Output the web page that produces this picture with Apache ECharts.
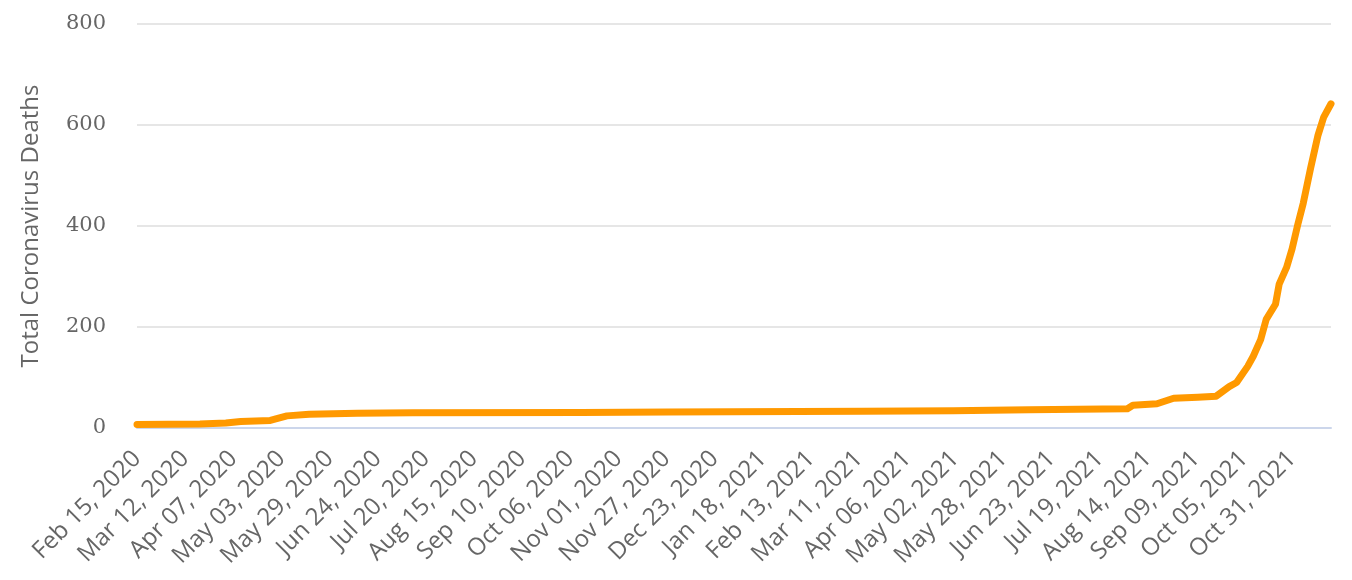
<!DOCTYPE html>
<html>
<head>
<meta charset="utf-8">
<script src="https://cdn.jsdelivr.net/npm/echarts@6/dist/echarts.min.js"></script>
<style>html,body{margin:0;padding:0;background:#fff}#c{width:1352px;height:580px}</style>
</head>
<body>
<div id="c"></div>
<script>
// Category range (daily)
const startDate = '2020-02-15';
const endDate = '2021-11-21';
// Readings of the cumulative line (date, total deaths)
const pointDates = [
  '2020-02-15','2020-03-20','2020-04-03','2020-04-11','2020-04-27','2020-05-06','2020-05-18','2020-06-13',
  '2020-07-13','2020-10-12','2020-11-28','2021-03-13','2021-05-01','2021-05-21','2021-06-11','2021-08-03',
  '2021-08-06','2021-08-19','2021-08-28','2021-09-10','2021-09-20','2021-09-27','2021-10-01','2021-10-07',
  '2021-10-10','2021-10-14','2021-10-17','2021-10-22','2021-10-24','2021-10-28','2021-10-31','2021-11-03',
  '2021-11-06','2021-11-10','2021-11-14','2021-11-17','2021-11-21'
];
const pointValues = [
  7, 8, 10, 13, 15, 24, 27, 29,
  30, 30.5, 31.5, 33, 34, 35, 36, 38,
  45, 48, 59, 61, 63, 82, 90, 122,
  142, 175, 215, 245, 285, 318, 355, 402,
  445, 515, 580, 615, 642
];
const yTicks = [0, 200, 400, 600, 800];
const yTitle = 'Total Coronavirus Deaths';
const monthNames = ['Jan','Feb','Mar','Apr','May','Jun','Jul','Aug','Sep','Oct','Nov','Dec'];

function iso(d){ return d.toISOString().slice(0,10); }
const categories = [];
for (let d = new Date(startDate + 'T00:00:00Z'); iso(d) <= endDate; d = new Date(d.getTime() + 86400000)) {
  categories.push(iso(d));
}
function fmt(s){
  const [y,m,dd] = s.split('-');
  return monthNames[+m - 1] + ' ' + dd + ', ' + y;
}
const seriesData = pointDates.map((d, i) => [d, pointValues[i]]);

const chart = echarts.init(document.getElementById('c'), null, {renderer: 'canvas'});
chart.setOption({
  animation: false,
  backgroundColor: '#ffffff',
  grid: {left: 137, right: 21, top: 24, bottom: 152, containLabel: false},
  xAxis: {
    type: 'category',
    data: categories,
    boundaryGap: false,
    axisLine: {show: true, lineStyle: {color: '#ccd6eb', width: 2}},
    axisTick: {show: false},
    splitLine: {show: false},
    axisLabel: {
      interval: 25,
      rotate: 45,
      margin: 27,
      color: '#666666',
      fontFamily: 'Open Sans',
      fontSize: 24,
      formatter: fmt
    }
  },
  yAxis: {
    type: 'value',
    min: yTicks[0],
    max: yTicks[yTicks.length - 1],
    interval: 200,
    name: yTitle,
    nameLocation: 'middle',
    nameGap: 94,
    nameRotate: 90,
    nameTextStyle: {color: '#666666', fontFamily: 'Open Sans', fontSize: 24},
    axisLine: {show: false},
    axisTick: {show: false},
    splitLine: {lineStyle: {color: '#e6e6e6', width: 2}},
    axisLabel: {
      margin: 31,
      color: '#666666',
      fontFamily: 'DejaVu Serif',
      fontSize: 21
    }
  },
  series: [{
    type: 'line',
    data: seriesData,
    showSymbol: false,
    symbol: 'none',
    lineStyle: {color: '#ff9900', width: 7, join: 'round', cap: 'round'},
    z: 3
  }]
});
</script>
</body>
</html>
